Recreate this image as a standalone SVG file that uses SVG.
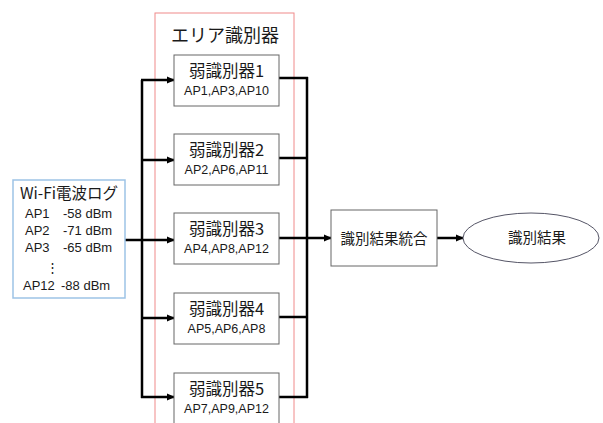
<svg xmlns="http://www.w3.org/2000/svg" width="603" height="423" viewBox="0 0 603 423">
<defs>
<marker id="ah" markerWidth="8" markerHeight="8" refX="7" refY="4" orient="auto" markerUnits="userSpaceOnUse">
<path d="M0,0.5 L8,4 L0,7.5 z" fill="#000"/>
</marker>
<style>
.t{font-family:"Noto Sans CJK JP","Noto Sans",sans-serif;fill:#1a1a1a;text-anchor:middle}
.s{text-anchor:start}
.big{font-size:16.5px}
.sm{font-family:"Liberation Sans","Noto Sans CJK JP",sans-serif;font-size:12.5px}
.w{font-family:"Liberation Sans","Noto Sans CJK JP",sans-serif;font-size:13px}
.box{fill:#fff;stroke:#666;stroke-width:1}
.ln{fill:none;stroke:#000;stroke-width:2.5}
.arr{fill:none;stroke:#000;stroke-width:2.5;marker-end:url(#ah)}
</style>
</defs>
<rect width="603" height="423" fill="#fff"/>
<g id="area">
<rect x="155" y="13" width="139" height="420" fill="none" stroke="#f08a8a" stroke-width="1"/>
<text class="t" x="225" y="42" style="font-size:18px">エリア識別器</text>
</g>
<g id="connectors">
<line class="ln" x1="125" y1="240" x2="142" y2="240"/>
<line class="ln" x1="142" y1="80" x2="142" y2="398"/>
<line class="arr" x1="141" y1="80" x2="174" y2="80"/>
<line class="arr" x1="141" y1="160" x2="174" y2="160"/>
<line class="arr" x1="141" y1="240" x2="174" y2="240"/>
<line class="arr" x1="141" y1="318" x2="174" y2="318"/>
<line class="arr" x1="141" y1="397" x2="174" y2="397"/>
<line class="ln" x1="279" y1="78" x2="308" y2="78"/>
<line class="ln" x1="279" y1="158" x2="308" y2="158"/>
<line class="ln" x1="279" y1="317" x2="308" y2="317"/>
<line class="ln" x1="279" y1="397" x2="308" y2="397"/>
<line class="ln" x1="307" y1="77" x2="307" y2="398"/>
<line class="arr" x1="279" y1="238" x2="331" y2="238"/>
<line class="arr" x1="437" y1="238" x2="463" y2="238"/>
</g>
<g id="wifi">
<rect x="13" y="180" width="112" height="118" fill="#fff" stroke="#9dc3e6" stroke-width="1.5"/>
<text class="t" x="69" y="199" style="font-size:15.5px">Wi-Fi電波ログ</text>
<text class="t s w" x="25" y="218">AP1</text>
<text class="t s w" x="63" y="218">-58 dBm</text>
<text class="t s w" x="25" y="235">AP2</text>
<text class="t s w" x="63" y="235">-71 dBm</text>
<text class="t s w" x="25" y="252">AP3</text>
<text class="t s w" x="63" y="252">-65 dBm</text>
<text class="t w" x="52" y="272">⋮</text>
<text class="t s w" x="23" y="290">AP12</text>
<text class="t s w" x="61" y="290">-88 dBm</text>
</g>
<g id="weak1">
<rect class="box" x="174" y="55" width="105" height="51"/>
<text class="t big" x="226.5" y="77">弱識別器1</text>
<text class="t sm" x="226.5" y="95">AP1,AP3,AP10</text>
</g>
<g id="weak2">
<rect class="box" x="174" y="134" width="105" height="51"/>
<text class="t big" x="226.5" y="156">弱識別器2</text>
<text class="t sm" x="226.5" y="174">AP2,AP6,AP11</text>
</g>
<g id="weak3">
<rect class="box" x="174" y="213" width="105" height="51"/>
<text class="t big" x="226.5" y="235">弱識別器3</text>
<text class="t sm" x="226.5" y="253">AP4,AP8,AP12</text>
</g>
<g id="weak4">
<rect class="box" x="174" y="293" width="105" height="51"/>
<text class="t big" x="226.5" y="315">弱識別器4</text>
<text class="t sm" x="226.5" y="333">AP5,AP6,AP8</text>
</g>
<g id="weak5">
<rect class="box" x="174" y="373" width="105" height="51"/>
<text class="t big" x="226.5" y="395">弱識別器5</text>
<text class="t sm" x="226.5" y="413">AP7,AP9,AP12</text>
</g>
<g id="merge">
<rect class="box" x="331" y="210" width="106" height="56"/>
<text class="t" x="384" y="244" style="font-size:14.5px">識別結果統合</text>
</g>
<g id="result">
<ellipse cx="531" cy="238" rx="68" ry="25" fill="#fff" stroke="#556" stroke-width="1"/>
<text class="t" x="537" y="243" style="font-size:14.5px">識別結果</text>
</g>
</svg>
